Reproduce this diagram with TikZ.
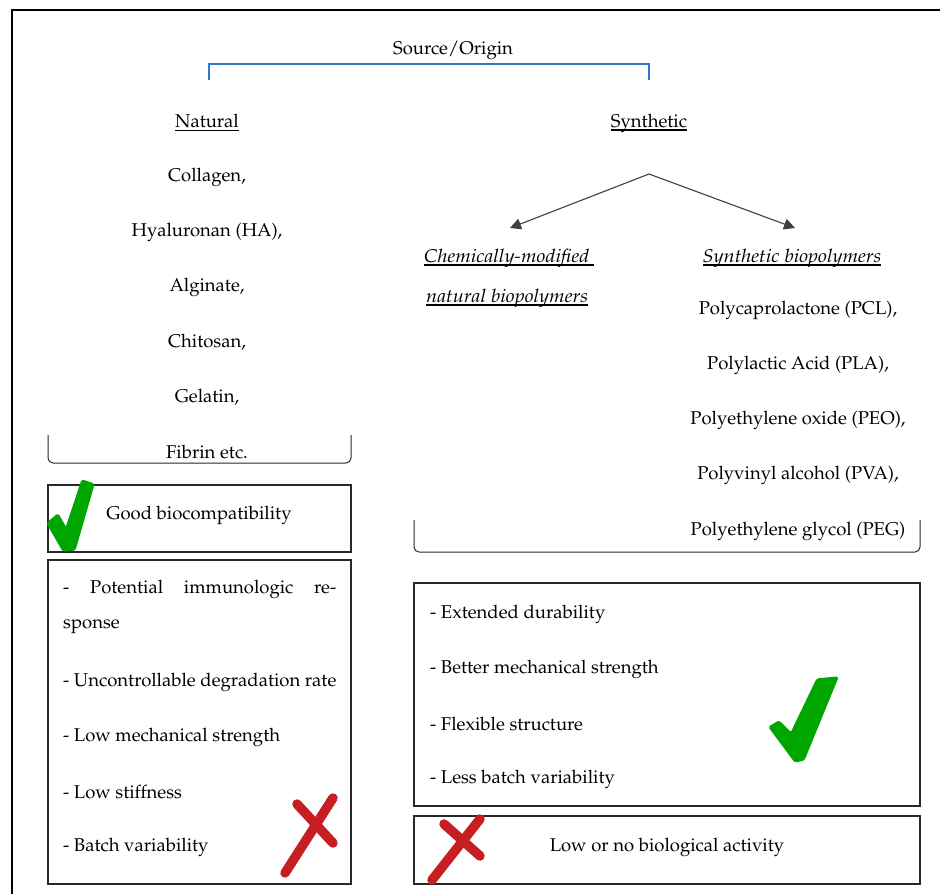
\documentclass[tikz,border=0pt]{standalone}
\usepackage[T1]{fontenc}
\usepackage{mathpazo}
\usepackage{graphicx}
\usetikzlibrary{arrows.meta}
\definecolor{bracketblue}{RGB}{52,120,200}
\definecolor{tickgreen}{RGB}{0,166,0}
\definecolor{crossred}{RGB}{198,30,34}
\definecolor{arrowgray}{RGB}{64,64,64}
\definecolor{framegray}{RGB}{40,40,40}
% heavier underline
\newcommand{\ulx}[1]{\begingroup\setbox0\hbox{#1}\rlap{\rule[-3.6pt]{\wd0}{1.5pt}}\box0\endgroup}
% wider italic heading
\newcommand{\itx}[1]{\scalebox{1.08}[1]{\itshape #1}}
\tikzset{
  txt/.style={inner sep=0pt, yshift=-2pt, font=\fontsize{18.5}{22}\selectfont},
  panel/.style={draw=framegray, line width=1.2pt},
  brace/.style={draw=framegray, line width=1pt, rounded corners=5pt},
  fork/.style={draw=arrowgray, line width=1.1pt, -{Triangle[length=11pt,width=11pt]}},
  tick/.style={fill=tickgreen, draw=tickgreen, line width=1.2pt, rounded corners=1.5pt},
  cross/.style={draw=crossred, line width=9.5pt, line cap=round},
}
\begin{document}
\begin{tikzpicture}[x=1pt,y=-1pt]
\useasboundingbox (0,0) rectangle (940,894);
\fill[white] (0,0) rectangle (940,894);
% outer frame (continues past the page edges)
\draw[line width=1.4pt] (12,894) -- (12,10) -- (940,10);

% heading and blue bracket
\node[txt] (src) at (453,48) {Source/Origin};
\coordinate (bl) at (209,80);
\coordinate (br) at (649,80);
\draw[bracketblue, line width=1.3pt] (bl) -- (209,64) -- (649,64) -- (br);

\node[txt] (nat) at (207,121) {\ulx{Natural}};
\node[txt] (syn) at (649,121) {\ulx{Synthetic}};

% natural list
\node[txt] (n1) at (207,175) {Collagen,};
\node[txt] (n2) at (207,230) {Hyaluronan (HA),};
\node[txt] (n3) at (207,285) {Alginate,};
\node[txt] (n4) at (207,340) {Chitosan,};
\node[txt] (n5) at (207,395) {Gelatin,};
\node[txt] (n6) at (207,450) {Fibrin etc.};
\draw[brace] (48,435) -- (48,463) -- (351,463) -- (351,435);

% natural: advantage
\node[panel, minimum width=303pt, minimum height=67pt, inner sep=0pt] (nadv) at (199.5,518.5) {};
\node[txt] (nadvt) at (199,513) {Good biocompatibility};
\draw[tick] (47,523) -- (58,514) -- (66,528) -- (82,480) -- (94,484) -- (75,550) -- (63,551) -- cycle;

% natural: disadvantages
\node[panel, minimum width=303pt, minimum height=324pt, inner sep=0pt] (ndis) at (199.5,722) {};
\node[txt, anchor=west] (d1) at (63,587) {\hbox to 273pt{-\hfill Potential\hfill immunologic\hfill re-}};
\node[txt, anchor=west] (d1b) at (63,625) {sponse};
\node[txt, anchor=west] (d2) at (63,680) {- Uncontrollable degradation rate};
\node[txt, anchor=west] (d3) at (63,735) {- Low mechanical strength};
\node[txt, anchor=west] (d4) at (63,790) {- Low stiffness};
\node[txt, anchor=west] (d5) at (63,845) {- Batch variability};
\draw[cross] (285,873) -- (333,798);
\draw[cross] (297,804) -- (333,843);

% synthetic branches
\coordinate (top) at (649,174);
\coordinate (lt) at (510,228);
\coordinate (rt) at (795,228);
\draw[fork] (top) -- (lt);
\draw[fork] (top) -- (rt);

\node[txt, anchor=west] (cm1) at (424,256) {\ulx{\itx{Chemically-modified\ }}};
\node[txt, anchor=west] (cm2) at (426,296) {\ulx{\itx{natural biopolymers}}};
\node[txt] (sb) at (792,256) {\ulx{\itx{Synthetic biopolymers}}};

\node[txt] (s1) at (798,308) {Polycaprolactone (PCL),};
\node[txt] (s2) at (798,363) {Polylactic Acid (PLA),};
\node[txt] (s3) at (798,418) {Polyethylene oxide (PEO),};
\node[txt] (s4) at (798,473) {Polyvinyl alcohol (PVA),};
\node[txt] (s5) at (798,529) {Polyethylene glycol (PEG)};
\draw[brace] (414,520) -- (414,552) -- (920,552) -- (920,520);

% synthetic: advantages
\node[panel, minimum width=506pt, minimum height=223pt, inner sep=0pt] (sadv) at (667,694.5) {};
\node[txt, anchor=west] (a1) at (430,612) {- Extended durability};
\node[txt, anchor=west] (a2) at (430,667) {- Better mechanical strength};
\node[txt, anchor=west] (a3) at (430,722) {- Flexible structure};
\node[txt, anchor=west] (a4) at (430,777) {- Less batch variability};
\draw[tick] (769,727) -- (779,721) -- (791,733) -- (817,679) -- (838,677) -- (804,760) -- (795,762) -- cycle;

% synthetic: disadvantage
\node[panel, minimum width=506pt, minimum height=68pt, inner sep=0pt] (sdis) at (667,850) {};
\node[txt] (sdist) at (667,845) {Low or no biological activity};
\draw[cross] (432,880) -- (480,819);
\draw[cross] (444,824) -- (480,856);
\end{tikzpicture}
\end{document}
